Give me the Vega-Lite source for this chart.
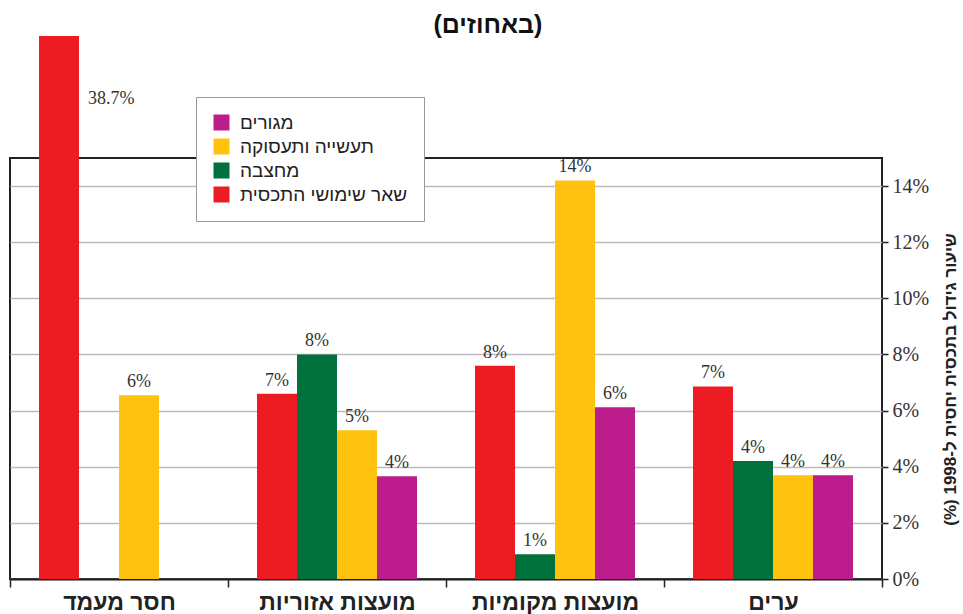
{
  "$schema": "https://vega.github.io/schema/vega-lite/v6.json",
  "width": 872,
  "height": 421,
  "autosize": {"type": "none"},
  "padding": {"left": 10, "top": 158, "right": 81, "bottom": 35},
  "background": "white",
  "title": {
    "text": "(באחוזים)",
    "anchor": "middle",
    "frame": "bounds",
    "font": "Liberation Sans",
    "fontSize": 25,
    "fontWeight": "bold",
    "color": "#111",
    "offset": -2,
    "dx": 4
  },
  "data": {
    "values": [
      {"group": "חסר מעמד", "type": "שאר שימושי התכסית", "value": 38.7, "label": "38.7%"},
      {"group": "חסר מעמד", "type": "תעשייה ותעסוקה", "value": 6.55, "label": "6%"},
      {"group": "מועצות אזוריות", "type": "שאר שימושי התכסית", "value": 6.6, "label": "7%"},
      {"group": "מועצות אזוריות", "type": "מחצבה", "value": 8.0, "label": "8%"},
      {"group": "מועצות אזוריות", "type": "תעשייה ותעסוקה", "value": 5.3, "label": "5%"},
      {"group": "מועצות אזוריות", "type": "מגורים", "value": 3.66, "label": "4%"},
      {"group": "מועצות מקומיות", "type": "שאר שימושי התכסית", "value": 7.6, "label": "8%"},
      {"group": "מועצות מקומיות", "type": "מחצבה", "value": 0.88, "label": "1%"},
      {"group": "מועצות מקומיות", "type": "תעשייה ותעסוקה", "value": 14.2, "label": "14%"},
      {"group": "מועצות מקומיות", "type": "מגורים", "value": 6.12, "label": "6%"},
      {"group": "ערים", "type": "שאר שימושי התכסית", "value": 6.86, "label": "7%"},
      {"group": "ערים", "type": "מחצבה", "value": 4.2, "label": "4%"},
      {"group": "ערים", "type": "תעשייה ותעסוקה", "value": 3.7, "label": "4%"},
      {"group": "ערים", "type": "מגורים", "value": 3.7, "label": "4%"}
    ]
  },
  "encoding": {
    "x": {
      "field": "group",
      "type": "nominal",
      "scale": {"domain": ["חסר מעמד", "מועצות אזוריות", "מועצות מקומיות", "ערים"], "paddingInner": 0, "paddingOuter": 0},
      "axis": {
        "title": null,
        "labelAngle": 0,
        "tickBand": "extent",
        "tickSize": 8,
        "tickColor": "#222",
        "tickWidth": 1.5,
        "domainColor": "#222",
        "domainWidth": 2,
        "labelFont": "Liberation Sans",
        "labelFontSize": 23,
        "labelFontWeight": "bold",
        "labelColor": "#222",
        "labelPadding": 4
      }
    },
    "xOffset": {
      "field": "type",
      "type": "nominal",
      "scale": {"domain": ["שאר שימושי התכסית", "מחצבה", "תעשייה ותעסוקה", "מגורים"], "paddingInner": 0, "paddingOuter": 0.725}
    },
    "y": {
      "field": "value",
      "type": "quantitative",
      "scale": {"domain": [0, 15, 38.7], "range": [421, 0, -122], "zero": false, "nice": false},
      "axis": {
        "orient": "right",
        "values": [0, 2, 4, 6, 8, 10, 12, 14],
        "labelExpr": "datum.value + '%'",
        "domain": false,
        "grid": true,
        "gridColor": "#bbb",
        "gridWidth": 1.5,
        "tickColor": "#222",
        "tickSize": 6,
        "tickWidth": 1.5,
        "labelFont": "Liberation Serif",
        "labelFontSize": 20,
        "labelColor": "#333",
        "labelPadding": 4,
        "title": "‫שיעור גידול בתכסית יחסית ל-1998 (%)‬",
        "titleFont": "Liberation Sans",
        "titleFontSize": 17,
        "titleFontWeight": "bold",
        "titleColor": "#222",
        "titleAngle": 270,
        "titleY": 221,
        "titlePadding": 31
      }
    }
  },
  "layer": [
    {
      "mark": {"type": "bar", "clip": false},
      "encoding": {
        "color": {
          "field": "type",
          "type": "nominal",
          "scale": {
            "domain": ["מגורים", "תעשייה ותעסוקה", "מחצבה", "שאר שימושי התכסית"],
            "range": ["#BC1C8C", "#FFC20E", "#00703C", "#ED1C24"]
          },
          "legend": {
            "orient": "none",
            "legendX": 186,
            "legendY": -61,
            "title": null,
            "fillColor": "white",
            "strokeColor": "#999",
            "padding": 16,
            "symbolType": "square",
            "symbolSize": 256,
            "symbolStrokeWidth": 0,
            "labelFont": "Liberation Sans",
            "labelFontSize": 19,
            "labelColor": "#222",
            "labelOffset": 9,
            "labelLimit": 400,
            "rowPadding": 4
          }
        }
      }
    },
    {
      "transform": [{"filter": "datum.value < 15"}],
      "mark": {"type": "text", "dy": -8, "baseline": "alphabetic", "font": "Liberation Serif", "fontSize": 18, "color": "#333"},
      "encoding": {"text": {"field": "label"}}
    },
    {
      "transform": [{"filter": "datum.value >= 15"}],
      "mark": {"type": "text", "align": "left", "dx": 29, "dy": 68, "baseline": "alphabetic", "font": "Liberation Serif", "fontSize": 18, "color": "#333"},
      "encoding": {"text": {"field": "label"}}
    }
  ],
  "config": {
    "view": {"stroke": "#222", "strokeWidth": 2}
  }
}
